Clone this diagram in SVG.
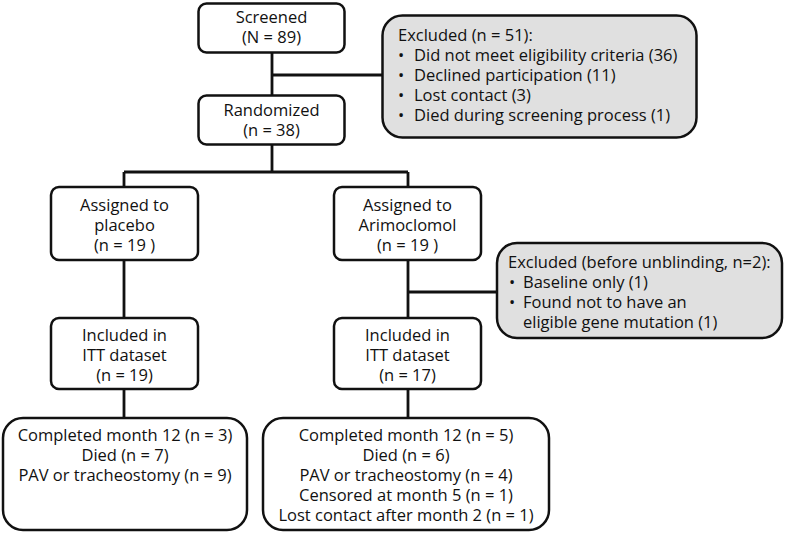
<svg xmlns="http://www.w3.org/2000/svg" width="786" height="534" viewBox="0 0 786 534">
<style>
text{font-family:"Open Sans","Noto Sans","DejaVu Sans",sans-serif;font-size:16.5px;fill:#111}
.c{text-anchor:middle}
.box{fill:#fff;stroke:#111;stroke-width:2.5}
.gbox{fill:#e0e0e0;stroke:#111;stroke-width:2.5}
.ln{fill:none;stroke:#111;stroke-width:2.8}
</style>
<g id="connectors">
<path class="ln" d="M272 52V95M272 75H383M272 144V172M124 172H408M124 172V187M408 172V187M124 260V318M408 260V318M408 292H497M124 390V418M408 390V418"/>
</g>
<g id="screened"><rect class="box" x="198.5" y="3.5" width="146" height="49" rx="8"/><text class="c" x="271.5" y="23"><tspan x="271.5">Screened</tspan><tspan x="271.5" dy="20">(N = 89)</tspan></text></g>
<g id="excluded1"><rect class="gbox" x="382.5" y="15.5" width="314" height="122" rx="20"/>
<text x="398" y="41"><tspan x="398">Excluded (n = 51):</tspan><tspan x="398" dy="20">•</tspan><tspan x="414">Did not meet eligibility criteria (36)</tspan><tspan x="398" dy="20">•</tspan><tspan x="414">Declined participation (11)</tspan><tspan x="398" dy="20">•</tspan><tspan x="414">Lost contact (3)</tspan><tspan x="398" dy="20">•</tspan><tspan x="414">Died during screening process (1)</tspan></text></g>
<g id="randomized"><rect class="box" x="198.5" y="95.5" width="146" height="49" rx="8"/><text class="c" x="271.5" y="116"><tspan x="271.5">Randomized</tspan><tspan x="271.5" dy="20">(n = 38)</tspan></text></g>
<g id="placebo"><rect class="box" x="51" y="187" width="147" height="73" rx="8"/><text class="c" x="124.5" y="211"><tspan x="124.5">Assigned to</tspan><tspan x="124.5" dy="20">placebo</tspan><tspan x="124.5" dy="20">(n = 19 )</tspan></text></g>
<g id="arimoclomol"><rect class="box" x="334" y="187" width="147" height="73" rx="8"/><text class="c" x="407.5" y="211"><tspan x="407.5">Assigned to</tspan><tspan x="407.5" dy="20">Arimoclomol</tspan><tspan x="407.5" dy="20">(n = 19 )</tspan></text></g>
<g id="excluded2"><rect class="gbox" x="497" y="243" width="285" height="95" rx="20"/>
<text x="508" y="268"><tspan x="508">Excluded (before unblinding, n=2):</tspan><tspan x="509" dy="20">•</tspan><tspan x="523">Baseline only (1)</tspan><tspan x="509" dy="20">•</tspan><tspan x="523">Found not to have an</tspan><tspan x="523" dy="20">eligible gene mutation (1)</tspan></text></g>
<g id="itt-placebo"><rect class="box" x="51" y="318" width="147" height="71" rx="8"/><text class="c" x="124.5" y="341"><tspan x="124.5">Included in</tspan><tspan x="124.5" dy="20">ITT dataset</tspan><tspan x="124.5" dy="20">(n = 19)</tspan></text></g>
<g id="itt-arimoclomol"><rect class="box" x="334" y="318" width="147" height="71" rx="8"/><text class="c" x="407.5" y="341"><tspan x="407.5">Included in</tspan><tspan x="407.5" dy="20">ITT dataset</tspan><tspan x="407.5" dy="20">(n = 17)</tspan></text></g>
<g id="outcome-placebo"><rect class="box" x="3" y="418" width="244" height="112" rx="20"/><text class="c" x="125" y="441"><tspan x="125">Completed month 12 (n = 3)</tspan><tspan x="125" dy="20">Died (n = 7)</tspan><tspan x="125" dy="20">PAV or tracheostomy (n = 9)</tspan></text></g>
<g id="outcome-arimoclomol"><rect class="box" x="263" y="418" width="286" height="112" rx="20"/><text class="c" x="406" y="441"><tspan x="406">Completed month 12  (n = 5)</tspan><tspan x="406" dy="20">Died (n = 6)</tspan><tspan x="406" dy="20">PAV or tracheostomy (n = 4)</tspan><tspan x="406" dy="20">Censored at month 5 (n = 1)</tspan><tspan x="406" dy="20">Lost contact after month 2 (n = 1)</tspan></text></g>
</svg>
